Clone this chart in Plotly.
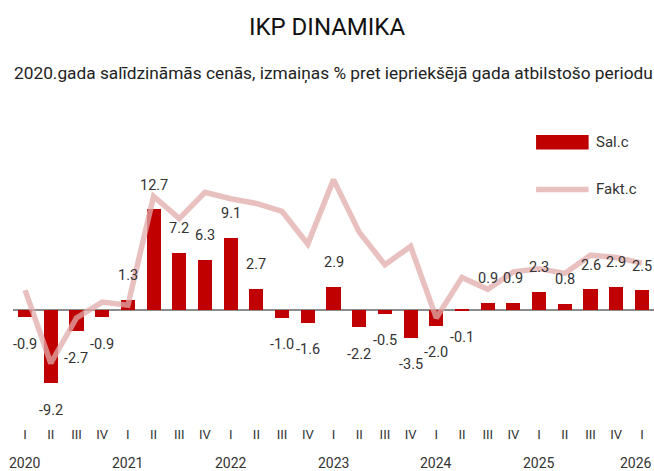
import plotly.graph_objects as go

quarters = ["I", "II", "III", "IV"] * 6 + ["I"]
years = ["2020", "2021", "2022", "2023", "2024", "2025", "2026"]
sal_c = [-0.9, -9.2, -2.7, -0.9, 1.3, 12.7, 7.2, 6.3, 9.1, 2.7, -1.0, -1.6, 2.9,
         -2.2, -0.5, -3.5, -2.0, -0.1, 0.9, 0.9, 2.3, 0.8, 2.6, 2.9, 2.5]
fakt_c = [2.5, -6.7, -1.0, 1.0, 0.6, 14.3, 11.5, 14.8, 14.0, 13.4, 12.4, 8.3, 16.4,
          9.8, 5.7, 8.0, -1.0, 4.1, 2.6, 4.8, 5.2, 4.6, 6.9, 6.6, 5.9]

FONT = "Roboto, sans-serif"
BAR = "#C00000"
LINE = "rgba(226,171,171,0.75)"
TXT = "#333333"

idx = list(range(len(sal_c)))

fig = go.Figure()
fig.add_trace(go.Bar(x=idx, y=sal_c, marker=dict(color=BAR, line=dict(width=0)),
                     width=0.55, name="Sal.c", showlegend=False))
fig.add_trace(go.Scatter(x=idx, y=fakt_c, mode="lines", name="Fakt.c",
                         line=dict(color=LINE, width=5.5), showlegend=False))

annotations = []
for i, v in zip(idx, sal_c):
    annotations.append(dict(x=i, y=v, text=f"{v:.1f}", showarrow=False,
                            yshift=24 if v >= 0 else -27,
                            font=dict(family=FONT, size=14.5, color=TXT)))
for k, yr in enumerate(years):
    annotations.append(dict(x=k * 4, y=0, yref="paper", yanchor="top", text=yr,
                            showarrow=False, yshift=-28,
                            xanchor="right" if k == len(years) - 1 else "center",
                            xshift=12 if k == len(years) - 1 else 0,
                            font=dict(family=FONT, size=14, color=TXT)))
annotations.append(dict(x=0.5, xref="paper", y=1, yref="paper", yshift=27,
                        yanchor="middle",
                        text="2020.gada salīdzināmās cenās, izmaiņas % pret iepriekšējā gada atbilstošo periodu",
                        showarrow=False, font=dict(family=FONT, size=17.3, color="#222222")))
# custom legend
annotations.append(dict(x=0.906, y=0.87, xref="paper", yref="paper", xanchor="left",
                        yanchor="middle", text="Sal.c", showarrow=False,
                        font=dict(family=FONT, size=15, color=TXT)))
annotations.append(dict(x=0.906, y=0.725, xref="paper", yref="paper", xanchor="left",
                        yanchor="middle", text="Fakt.c", showarrow=False,
                        font=dict(family=FONT, size=15, color=TXT)))

shapes = [
    dict(type="rect", xref="paper", yref="paper", x0=0.816, x1=0.898, y0=0.848, y1=0.892,
         fillcolor=BAR, line=dict(width=0)),
    dict(type="line", xref="paper", yref="paper", x0=0.816, x1=0.898, y0=0.725, y1=0.725,
         line=dict(color=LINE, width=5.5)),
]

fig.update_layout(
    width=654, height=471,
    margin=dict(l=13, r=0, t=100, b=46),
    paper_bgcolor="white", plot_bgcolor="white",
    title=dict(text="IKP DINAMIKA", x=0.5, xanchor="center", y=0.943, yanchor="middle",
               font=dict(family=FONT, size=24, color="#111111")),
    xaxis=dict(range=[-0.47, 24.47], tickmode="array", tickvals=idx, ticktext=quarters,
               showgrid=False, showline=False, ticks="", zeroline=False,
               tickfont=dict(family=FONT, size=13, color=TXT)),
    yaxis=dict(range=[-14.47, 26.42], visible=True, showticklabels=False, showgrid=False,
               zeroline=True, zerolinecolor="#8c8c8c", zerolinewidth=1.5, ticks=""),
    annotations=annotations, shapes=shapes, showlegend=False, bargap=0,
)

fig.write_html("out.html", config={"displayModeBar": False},
               post_script="document.body.style.margin='0';")
